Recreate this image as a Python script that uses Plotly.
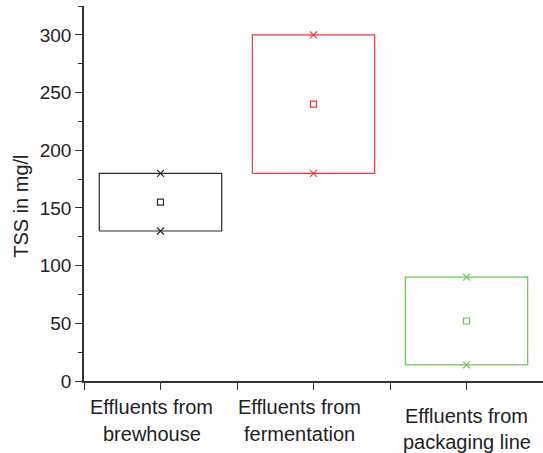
import plotly.graph_objects as go

# ---- data ----
categories = ["Effluents from brewhouse", "Effluents from fermentation", "Effluents from packaging line"]
label_lines = [["Effluents from", "brewhouse"], ["Effluents from", "fermentation"], ["Effluents from", "packaging line"]]
positions = [1, 2, 3]
tss_min = [130, 180, 14]
tss_max = [180, 300, 90]
tss_mean = [155, 240, 52]
colors = ["#2b2b2b", "#f0383a", "#6cc552"]
y_ticks = [0, 50, 100, 150, 200, 250, 300]

half_w = 0.4
fig = go.Figure()
for pos, lo, hi, mn, col in zip(positions, tss_min, tss_max, tss_mean, colors):
    fig.add_trace(go.Scatter(
        x=[pos - half_w, pos + half_w, pos + half_w, pos - half_w, pos - half_w],
        y=[lo, lo, hi, hi, lo],
        mode="lines", line=dict(color=col, width=1.2), hoverinfo="skip", showlegend=False))
    fig.add_trace(go.Scatter(
        x=[pos, pos], y=[lo, hi], mode="markers",
        marker=dict(symbol="x-thin", size=7, line=dict(color=col, width=1.2)),
        showlegend=False))
    fig.add_trace(go.Scatter(
        x=[pos], y=[mn], mode="markers",
        marker=dict(symbol="square-open", size=6, color=col, line=dict(width=1.2)),
        showlegend=False))

font_col = "#222222"
axis_col = "#333333"
FONT = "Liberation Sans, Arial, sans-serif"

annotations = []
xshifts = [-9, -14, 0]
yshifts = [[-26, -53], [-26, -53], [-35, -61]]
for pos, lines, xs, ys in zip(positions, label_lines, xshifts, yshifts):
    for line, yshift in zip(lines, ys):
        annotations.append(dict(
            x=pos, y=0, xref="x", yref="paper", text=line, showarrow=False,
            xanchor="center", yanchor="middle", xshift=xs, yshift=yshift,
            font=dict(family=FONT, size=20, color=font_col)))
annotations.append(dict(
    x=-0.139, y=0.465, xref="paper", yref="paper", text="TSS in mg/l", textangle=-90,
    showarrow=False, xanchor="center", yanchor="middle",
    font=dict(family=FONT, size=20, color=font_col)))

fig.update_layout(
    width=543, height=453,
    margin=dict(l=84, r=0, t=6, b=72),
    paper_bgcolor="white", plot_bgcolor="white",
    font=dict(family=FONT, size=19, color=font_col),
    annotations=annotations,
    xaxis=dict(range=[0.5, 3.5], tickvals=[0.5, 1, 1.5, 2, 2.5, 3, 3.5], ticktext=[""] * 7,
               ticks="outside", ticklen=7, tickwidth=1.3, tickcolor=axis_col,
               showline=True, linecolor=axis_col, linewidth=1.5, showgrid=False, zeroline=False,
               fixedrange=True),
    yaxis=dict(range=[0, 325], tickvals=y_ticks, ticks="outside", ticklen=7, tickwidth=1.3,
               tickcolor=axis_col, showline=True, linecolor=axis_col, linewidth=1.5,
               showgrid=False, zeroline=False,
               minor=dict(dtick=25, ticks="outside", ticklen=4, tickwidth=1.3, tickcolor=axis_col),
               tickfont=dict(size=19, color=font_col)),
)

fig.write_html("out.html", config={"displayModeBar": False},
               post_script="document.body.style.margin='0';document.body.style.overflow='hidden';")
